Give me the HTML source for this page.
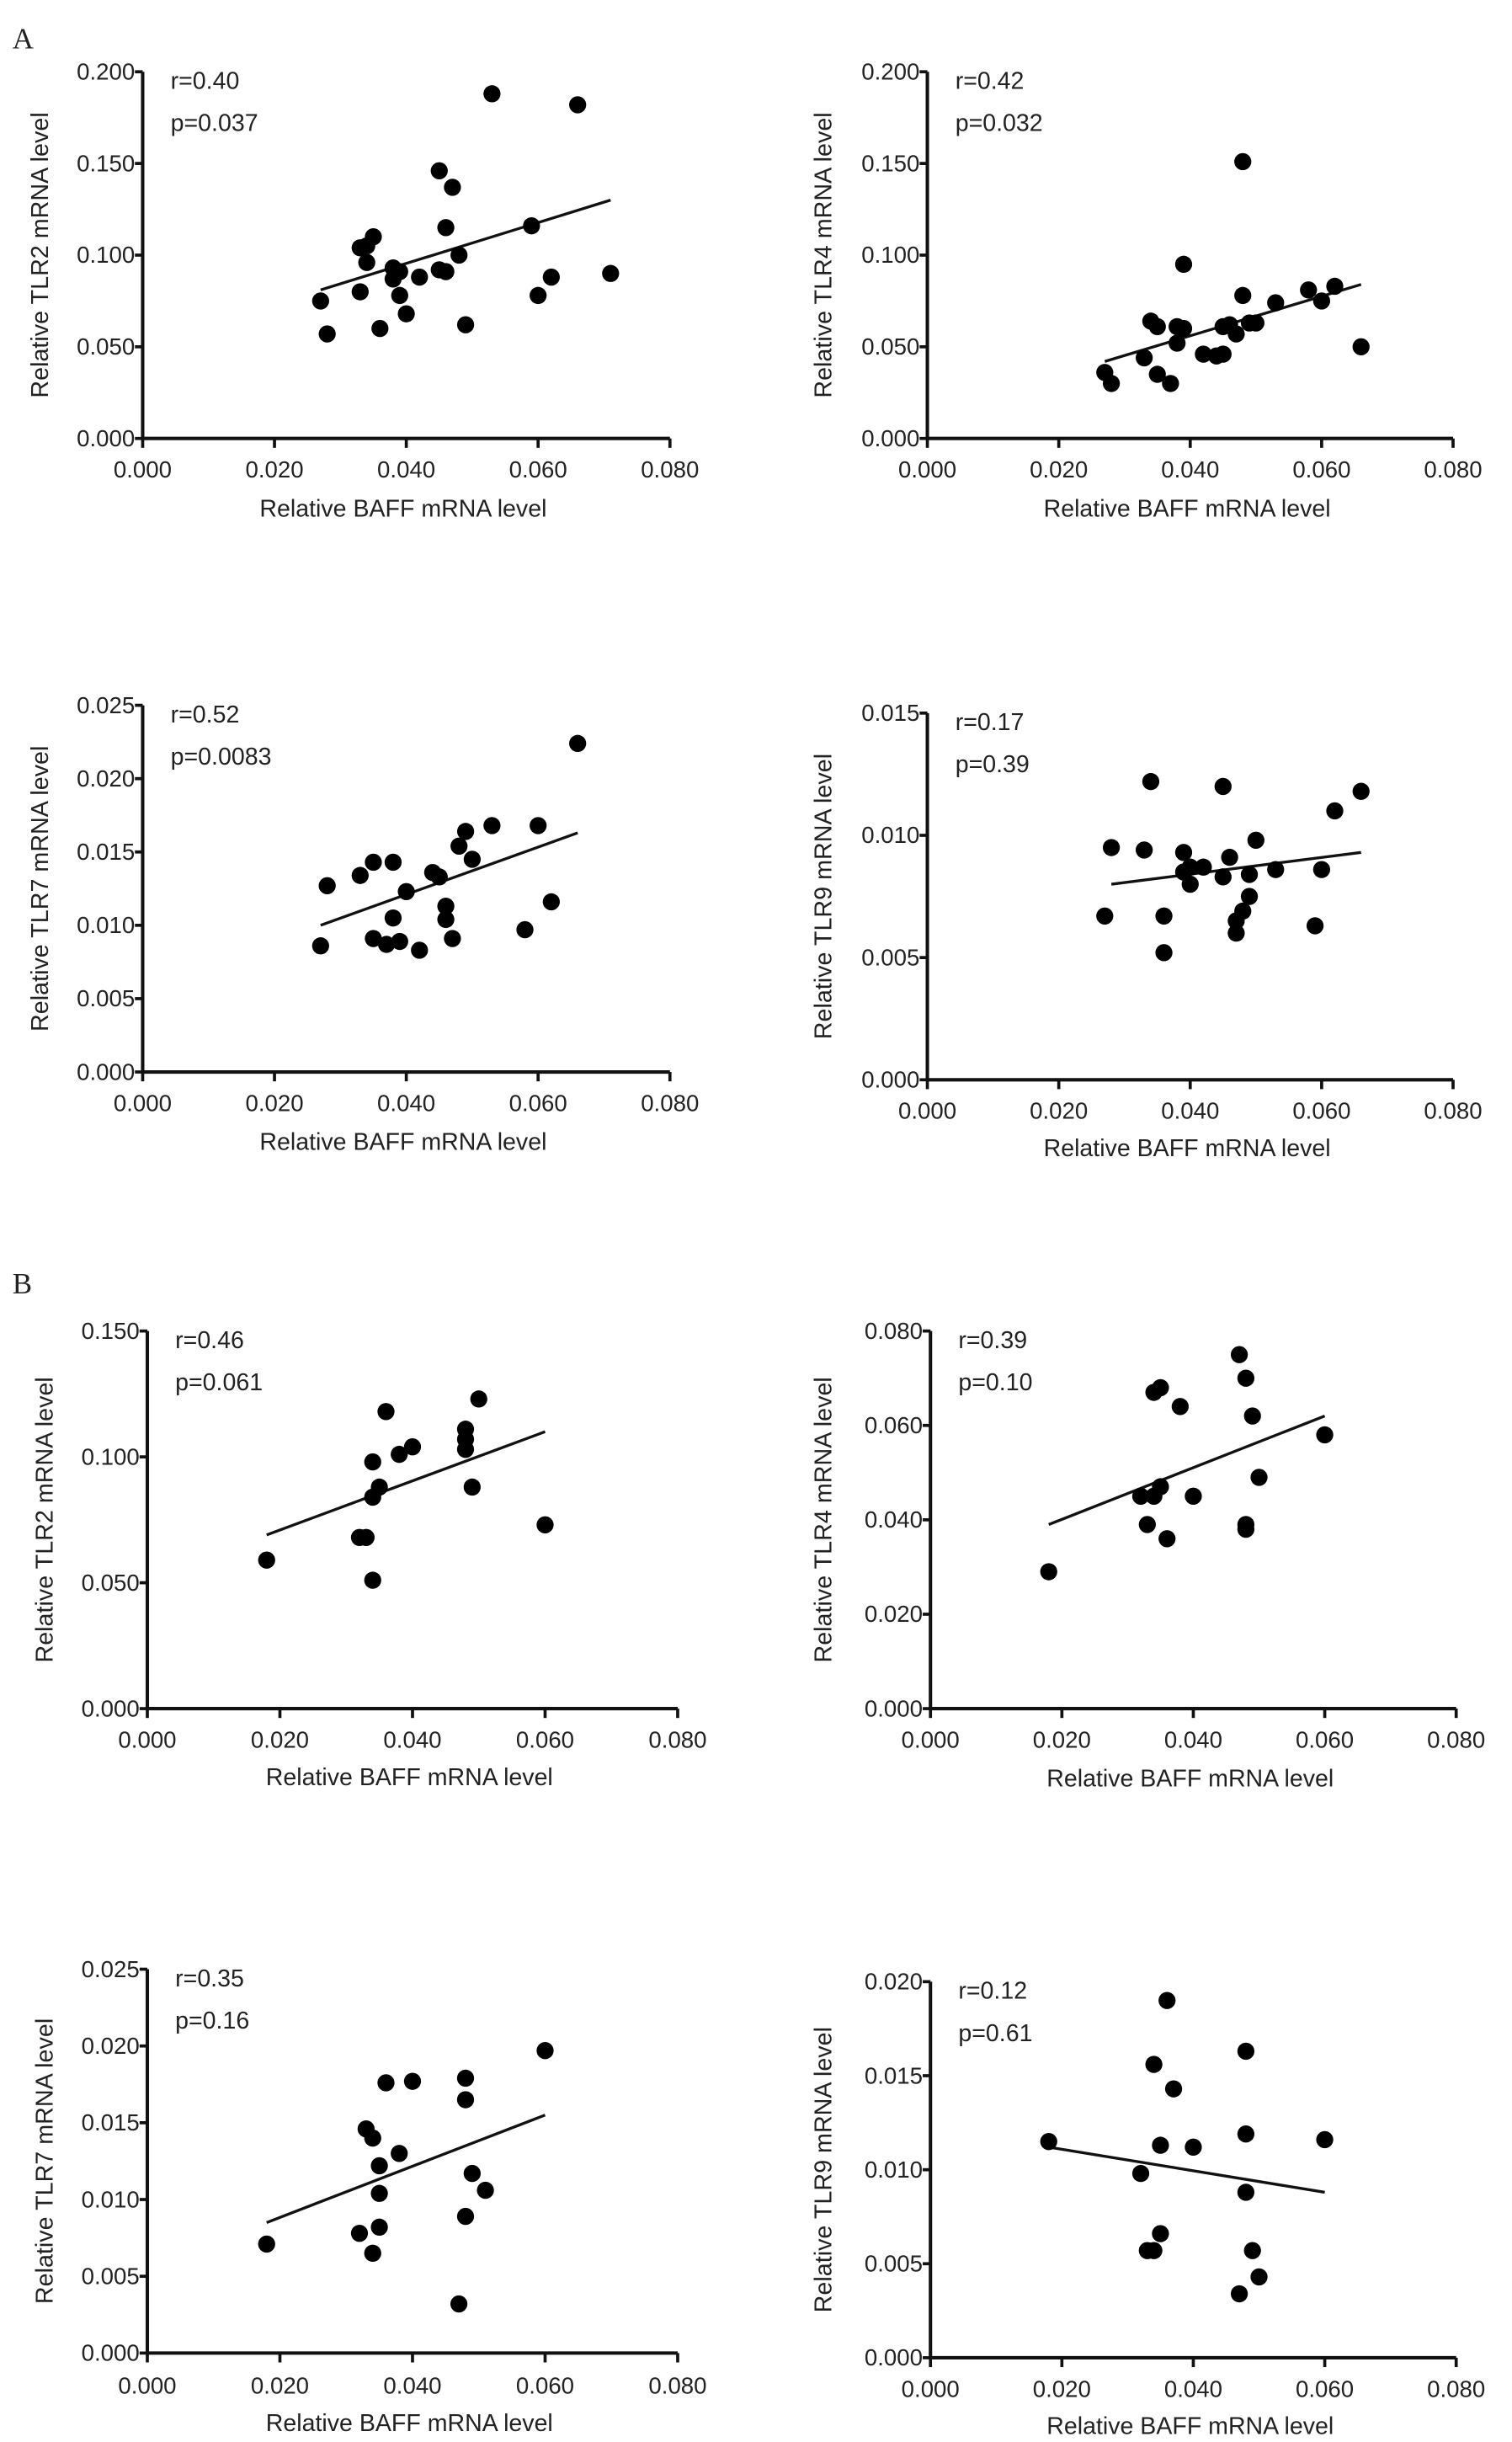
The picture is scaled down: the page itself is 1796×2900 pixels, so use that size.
<!DOCTYPE html>
<html><head><meta charset="utf-8"><style>
html,body{margin:0;padding:0;background:#fff;}
svg{display:block;}
text{font-family:"Liberation Sans",Arial,sans-serif;fill:#222;}
</style></head><body>
<svg id="fig" width="1796" height="2900" viewBox="0 0 975 1565" preserveAspectRatio="none" xmlns="http://www.w3.org/2000/svg">
<text x="8" y="31" style="font-family:'Liberation Serif',serif;font-size:19px">A</text>
<text x="8" y="829" style="font-family:'Liberation Serif',serif;font-size:19px">B</text>
</svg>
<script>
const xTicks=["0.000","0.020","0.040","0.060","0.080"];
const a1x=[0.027,0.028,0.033,0.033,0.034,0.034,0.035,0.036,0.038,0.038,0.039,0.039,0.040,0.042,0.045,0.045,0.046,0.046,0.047,0.048,0.049,0.053,0.059,0.060,0.062,0.066,0.071];
const a1y=[0.075,0.057,0.080,0.104,0.105,0.096,0.110,0.060,0.093,0.087,0.091,0.078,0.068,0.088,0.146,0.092,0.115,0.091,0.137,0.100,0.062,0.188,0.116,0.078,0.088,0.182,0.090];
const a1fit=[0.027,0.081,0.071,0.130];
const a2x=[0.027,0.028,0.033,0.034,0.035,0.035,0.037,0.038,0.038,0.039,0.039,0.042,0.044,0.045,0.045,0.046,0.047,0.048,0.048,0.049,0.050,0.053,0.058,0.060,0.062,0.066];
const a2y=[0.036,0.030,0.044,0.064,0.061,0.035,0.030,0.061,0.052,0.095,0.060,0.046,0.045,0.061,0.046,0.062,0.057,0.151,0.078,0.063,0.063,0.074,0.081,0.075,0.083,0.050];
const a2fit=[0.027,0.042,0.066,0.084];
const a3x=[0.027,0.028,0.033,0.035,0.035,0.037,0.038,0.038,0.039,0.040,0.042,0.044,0.045,0.046,0.046,0.047,0.048,0.049,0.050,0.053,0.058,0.060,0.062,0.066];
const a3y=[0.0086,0.0127,0.0134,0.0143,0.0091,0.0087,0.0143,0.0105,0.0089,0.0123,0.0083,0.0136,0.0133,0.0113,0.0104,0.0091,0.0154,0.0164,0.0145,0.0168,0.0097,0.0168,0.0116,0.0224];
const a3fit=[0.027,0.0100,0.066,0.0163];
const a4x=[0.028,0.027,0.033,0.034,0.036,0.036,0.039,0.039,0.040,0.040,0.042,0.045,0.045,0.046,0.047,0.047,0.048,0.049,0.049,0.050,0.053,0.059,0.060,0.062,0.066];
const a4y=[0.0095,0.0067,0.0094,0.0122,0.0067,0.0052,0.0093,0.0085,0.0087,0.0080,0.0087,0.0120,0.0083,0.0091,0.0065,0.0060,0.0069,0.0075,0.0084,0.0098,0.0086,0.0063,0.0086,0.0110,0.0118];
const a4fit=[0.028,0.0080,0.066,0.0093];
const b1x=[0.018,0.032,0.033,0.034,0.034,0.034,0.035,0.036,0.038,0.040,0.048,0.048,0.048,0.049,0.050,0.060];
const b1y=[0.059,0.068,0.068,0.084,0.098,0.051,0.088,0.118,0.101,0.104,0.103,0.107,0.111,0.088,0.123,0.073];
const b1fit=[0.018,0.069,0.060,0.110];
const b2x=[0.018,0.032,0.033,0.034,0.034,0.035,0.035,0.036,0.038,0.040,0.047,0.048,0.048,0.048,0.049,0.050,0.060];
const b2y=[0.029,0.045,0.039,0.067,0.045,0.068,0.047,0.036,0.064,0.045,0.075,0.070,0.039,0.038,0.062,0.049,0.058];
const b2fit=[0.018,0.039,0.060,0.062];
const b3x=[0.018,0.032,0.033,0.034,0.034,0.035,0.035,0.035,0.036,0.038,0.040,0.048,0.048,0.048,0.047,0.049,0.051,0.060];
const b3y=[0.0071,0.0078,0.0146,0.0140,0.0065,0.0122,0.0104,0.0082,0.0176,0.0130,0.0177,0.0179,0.0165,0.0089,0.0032,0.0117,0.0106,0.0197];
const b3fit=[0.018,0.0085,0.060,0.0155];
const b4x=[0.018,0.032,0.033,0.034,0.034,0.035,0.035,0.036,0.037,0.040,0.048,0.047,0.048,0.048,0.049,0.050,0.060];
const b4y=[0.0115,0.0098,0.0057,0.0156,0.0057,0.0113,0.0066,0.0190,0.0143,0.0112,0.0088,0.0034,0.0163,0.0119,0.0057,0.0043,0.0116];
const b4fit=[0.018,0.0112,0.060,0.0088];

const NS="http://www.w3.org/2000/svg";
const svg=document.getElementById('fig');
function mk(tag,attrs,parent){const e=document.createElementNS(NS,tag);for(const k in attrs)e.setAttribute(k,attrs[k]);(parent||svg).appendChild(e);return e;}
function panel(id,ox,top,bot,xend,yMax,yTicks,yName,r,p,xs,ys,fit,xlabY,titleY,ylabX){
  const g=mk('g',{});
  
  
  const sx=v=>ox+v/0.08*(xend-ox);
  const sy=v=>bot-v/yMax*(bot-top);
  const ax=mk('path',{d:`M${ox},${top}V${bot}H${xend}`,stroke:'#111','stroke-width':2.2,fill:'none'},g);
  
  
  yTicks.forEach((t,i)=>{const v=yMax*i/(yTicks.length-1);const y=sy(v);
    mk('line',{x1:ox-5,x2:ox,y1:y,y2:y,stroke:'#111','stroke-width':2},g);
    const tx=mk('text',{x:ox-5,y:y+5,'text-anchor':'end','font-size':15},g);tx.textContent=t;
    
    });
  xTicks.forEach((t,i)=>{const v=0.02*i;const x=sx(v);
    mk('line',{x1:x,x2:x,y1:bot,y2:bot+6,stroke:'#111','stroke-width':2},g);
    const tx=mk('text',{x:x,y:xlabY,'text-anchor':'middle','font-size':15},g);tx.textContent=t;
    
    });
  const xt=mk('text',{x:(ox+xend)/2-2,y:titleY,'text-anchor':'middle','font-size':15.5},g);xt.textContent='Relative BAFF mRNA level';
  
  
  const cy=(top+bot)/2;
  const yt=mk('text',{x:ylabX,y:cy,'text-anchor':'middle','font-size':15.5,transform:`rotate(-90 ${ylabX} ${cy})`},g);yt.textContent=yName;
  
  
  const rt=mk('text',{x:ox+18,y:top+11,'font-size':15.5},g);rt.textContent=r;
  
  
  const pt=mk('text',{x:ox+18,y:top+38,'font-size':15.5},g);pt.textContent=p;
  
  
  const ln=mk('line',{x1:sx(fit[0]),y1:sy(fit[1]),x2:sx(fit[2]),y2:sy(fit[3]),stroke:'#111','stroke-width':1.8},g);
  
  
  xs.forEach((v,i)=>{const c=mk('circle',{cx:sx(v),cy:sy(ys[i]),r:5.5,fill:'#000'},g);
    
    });
}
panel('a-tlr2',92,46,281,432,0.2,["0.000","0.050","0.100","0.150","0.200"],'Relative TLR2 mRNA level','r=0.40','p=0.037',a1x,a1y,a1fit,306,331,31);
panel('a-tlr4',598,46,281,937,0.2,["0.000","0.050","0.100","0.150","0.200"],'Relative TLR4 mRNA level','r=0.42','p=0.032',a2x,a2y,a2fit,306,331,536);
panel('a-tlr7',92,452,687,432,0.025,["0.000","0.005","0.010","0.015","0.020","0.025"],'Relative TLR7 mRNA level','r=0.52','p=0.0083',a3x,a3y,a3fit,712,737,31);
panel('a-tlr9',598,457,692,937,0.015,["0.000","0.005","0.010","0.015"],'Relative TLR9 mRNA level','r=0.17','p=0.39',a4x,a4y,a4fit,717,741,536);
panel('b-tlr2',95,853,1095,437,0.15,["0.000","0.050","0.100","0.150"],'Relative TLR2 mRNA level','r=0.46','p=0.061',b1x,b1y,b1fit,1120,1144,34);
panel('b-tlr4',600,853,1095,939,0.08,["0.000","0.020","0.040","0.060","0.080"],'Relative TLR4 mRNA level','r=0.39','p=0.10',b2x,b2y,b2fit,1120,1145,536);
panel('b-tlr7',95,1262,1508,437,0.025,["0.000","0.005","0.010","0.015","0.020","0.025"],'Relative TLR7 mRNA level','r=0.35','p=0.16',b3x,b3y,b3fit,1534,1558,34);
panel('b-tlr9',600,1270,1511,939,0.02,["0.000","0.005","0.010","0.015","0.020"],'Relative TLR9 mRNA level','r=0.12','p=0.61',b4x,b4y,b4fit,1536,1560,536);
</script>
</body></html>
